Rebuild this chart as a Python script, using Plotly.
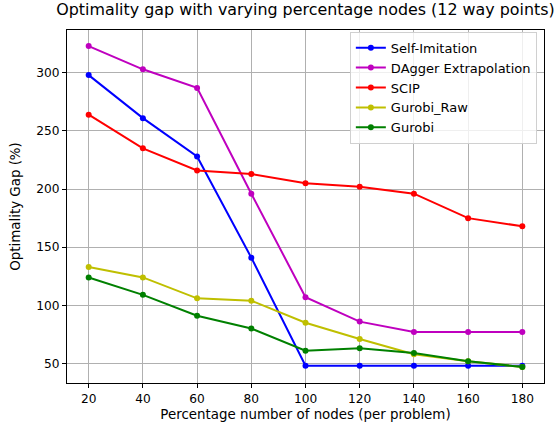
import plotly.graph_objects as go

x_nodes = [20, 40, 60, 80, 100, 120, 140, 160, 180]
self_imitation = [298, 261, 228, 141, 48, 48, 48, 48, 48]
dagger = [323, 303, 287, 196, 107, 86, 77, 77, 77]
scip = [264, 235, 216, 213, 205, 202, 196, 175, 168]
gurobi_raw = [133, 124, 106, 104, 85, 71, 58, 52, 47]
gurobi = [124, 109, 91, 80, 61, 63, 59, 52, 47]

series = [
    ("Self-Imitation", self_imitation, "#0000ff"),
    ("DAgger Extrapolation", dagger, "#bf00bf"),
    ("SCIP", scip, "#ff0000"),
    ("Gurobi_Raw", gurobi_raw, "#bfbf00"),
    ("Gurobi", gurobi, "#008000"),
]

fig = go.Figure()
for name, vals, col in series:
    fig.add_trace(go.Scatter(
        x=x_nodes, y=vals, name=name, mode="lines+markers",
        line=dict(color=col, width=2),
        marker=dict(color=col, size=6),
    ))

font = "DejaVu Sans"
fig.update_layout(
    width=560, height=425,
    margin=dict(l=67, r=16, t=30, b=42),
    paper_bgcolor="white", plot_bgcolor="white",
    font=dict(family=font, size=12, color="#000000"),
    title=dict(text="Optimality gap with varying percentage nodes (12 way points)",
               x=0.5, xref="paper", xanchor="center", y=1, yanchor="top", yref="container",
               pad=dict(t=4),
               font=dict(family=font, size=15.9, color="#000000")),
    legend=dict(x=0.985, xanchor="right", y=0.995, yanchor="top",
                bgcolor="rgba(255,255,255,0.8)", bordercolor="#d0d0d0", borderwidth=1,
                font=dict(family=font, size=13), tracegroupgap=0, itemwidth=30),
    showlegend=True,
)
fig.update_xaxes(
    range=[12, 188], tickmode="array", tickvals=x_nodes,
    showgrid=True, gridcolor="#b0b0b0", gridwidth=1,
    showline=True, linecolor="black", linewidth=1, mirror=True,
    ticks="outside", ticklen=4, tickcolor="black",
    tickfont=dict(family=font, size=12.2),
    automargin=False,
    title=dict(text="Percentage number of nodes (per problem)", standoff=4,
               font=dict(family=font, size=13.4)),
    zeroline=False,
)
fig.update_yaxes(
    range=[33.2, 336.8], tickmode="array", tickvals=[50, 100, 150, 200, 250, 300],
    showgrid=True, gridcolor="#b0b0b0", gridwidth=1,
    showline=True, linecolor="black", linewidth=1, mirror=True,
    ticks="outside", ticklen=4, tickcolor="black",
    tickfont=dict(family=font, size=12.2),
    automargin=False,
    title=dict(text="Optimality Gap (%)", standoff=12,
               font=dict(family=font, size=13.4)),
    zeroline=False,
)
fig.write_html("out.html")
